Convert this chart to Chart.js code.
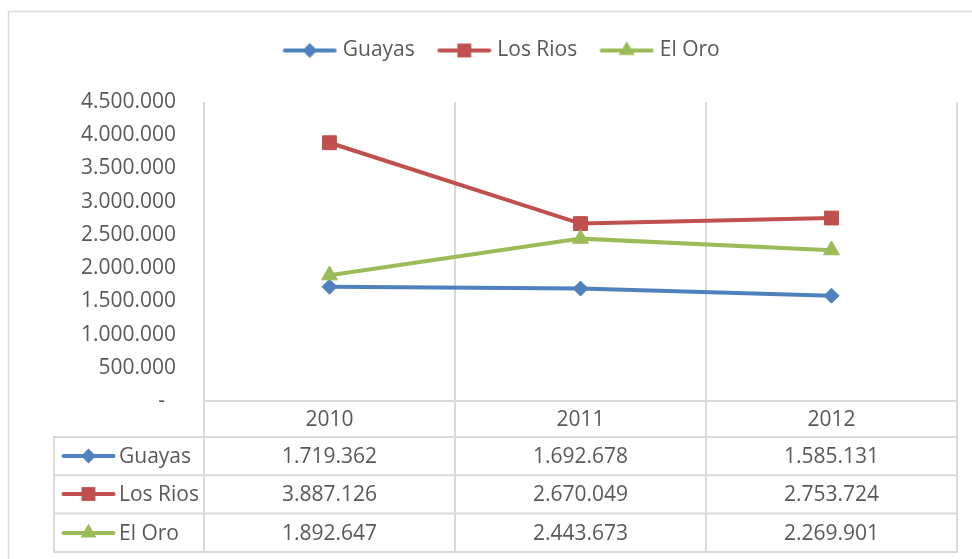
<!DOCTYPE html>
<html>
<head>
<meta charset="utf-8">
<script src="https://cdn.jsdelivr.net/npm/chart.js@4.4.1/dist/chart.umd.min.js"></script>
<style>
  html, body { margin: 0; padding: 0; background: #ffffff; }
  #wrap { width: 972px; height: 559px; position: relative; }
</style>
</head>
<body>
<div id="wrap"><canvas id="c" width="972" height="559"></canvas></div>
<script>
// ---- data ----
const categories = ['2010', '2011', '2012'];
const seriesNames = ['Guayas', 'Los Rios', 'El Oro'];
const guayas = [1719362, 1692678, 1585131];
const losRios = [3887126, 2670049, 2753724];
const elOro = [1892647, 2443673, 2269901];
const yMin = 0;
const yMax = 4500000;
const yStep = 500000;

// ---- styles ----
const COLORS = ['#4F81BD', '#C0504D', '#9BBB59'];
const MARKERS = ['rectRot', 'rect', 'triangle'];
const MARKER_R = [7.5, 9.8, 9.2];
const TEXT = '#595959';
const GRID = '#d9d9d9';
const FONT = "'Open Sans', 'Noto Sans', sans-serif";
const FS = 21;

function fmt(v) {
  if (v === 0) return '-  ';
  return String(Math.round(v)).replace(/\B(?=(\d{3})+(?!\d))/g, '.');
}

function drawMarker(ctx, style, x, y, r, color) {
  ctx.save();
  ctx.fillStyle = color;
  ctx.beginPath();
  if (style === 'rectRot') {
    ctx.moveTo(x - r, y); ctx.lineTo(x, y - r); ctx.lineTo(x + r, y); ctx.lineTo(x, y + r);
  } else if (style === 'rect') {
    const h = Math.SQRT1_2 * r;
    ctx.rect(x - h, y - h, 2 * h, 2 * h);
  } else {
    ctx.moveTo(x, y - r);
    ctx.lineTo(x + r * Math.sin(2 * Math.PI / 3), y - r * Math.cos(2 * Math.PI / 3));
    ctx.lineTo(x + r * Math.sin(4 * Math.PI / 3), y - r * Math.cos(4 * Math.PI / 3));
  }
  ctx.closePath();
  ctx.fill();
  ctx.restore();
}

function makeSample(i) {
  const cv = document.createElement('canvas');
  cv.width = 55; cv.height = 20;
  const ctx = cv.getContext('2d');
  ctx.strokeStyle = COLORS[i];
  ctx.lineWidth = 4;
  ctx.lineCap = 'round';
  ctx.beginPath();
  ctx.moveTo(2.5, 10); ctx.lineTo(52.5, 10);
  ctx.stroke();
  drawMarker(ctx, MARKERS[i], 27.5, 10, MARKER_R[i], COLORS[i]);
  return cv;
}
const samples = [0, 1, 2].map(makeSample);

const seriesData = [guayas, losRios, elOro];

const datasets = seriesData.map((d, i) => ({
  label: seriesNames[i],
  data: d,
  borderColor: COLORS[i],
  backgroundColor: COLORS[i],
  borderWidth: 4,
  pointStyle: MARKERS[i],
  pointRadius: MARKER_R[i],
  pointHoverRadius: MARKER_R[i],
  pointBackgroundColor: COLORS[i],
  pointBorderColor: COLORS[i],
  pointBorderWidth: 1,
  tension: 0,
  fill: false,
  clip: false,
  order: 3 - i
}));

const LEGEND_H = 89;

const frame = {
  id: 'frame',
  beforeLayout(chart) {
    const lg = chart.legend;
    if (lg && !lg._patchedFit) {
      const orig = lg.fit.bind(lg);
      lg.fit = function () { orig(); this.height = LEGEND_H; };
      lg._patchedFit = true;
    }
  },
  beforeDraw(chart) {
    const ctx = chart.ctx;
    ctx.save();
    ctx.fillStyle = '#ffffff';
    ctx.fillRect(0, 0, chart.width, chart.height);
    ctx.strokeStyle = GRID;
    ctx.lineWidth = 1.5;
    ctx.beginPath();
    ctx.moveTo(8.5, chart.height + 10);
    ctx.lineTo(8.5, 11.5);
    ctx.lineTo(chart.width + 10, 11.5);
    ctx.stroke();
    ctx.restore();
  },
  afterDraw(chart) {
    const ctx = chart.ctx;
    const xs = chart.scales.x;
    const area = chart.chartArea;
    const step = xs.getPixelForValue(1) - xs.getPixelForValue(0);
    const bounds = [];
    for (let i = 0; i <= categories.length; i++) bounds.push(xs.getPixelForValue(0) - step / 2 + i * step);
    const headerBottom = xs.bottom;
    const rowH = 38.3;
    const tableLeft = 54;
    const rows = seriesNames.length;
    const tableBottom = headerBottom + rowH * rows;

    ctx.save();
    ctx.strokeStyle = GRID;
    ctx.lineWidth = 2;
    ctx.beginPath();
    bounds.forEach(bx => { ctx.moveTo(bx, area.bottom); ctx.lineTo(bx, tableBottom); });
    ctx.moveTo(tableLeft, headerBottom); ctx.lineTo(tableLeft, tableBottom);
    for (let r = 0; r <= rows; r++) {
      const y = headerBottom + r * rowH;
      ctx.moveTo(tableLeft - 1, y); ctx.lineTo(bounds[bounds.length - 1] + 1, y);
    }
    ctx.stroke();

    ctx.fillStyle = TEXT;
    ctx.font = FS + 'px ' + FONT;
    ctx.textBaseline = 'middle';
    for (let r = 0; r < rows; r++) {
      const cy = headerBottom + r * rowH + rowH / 2 + 1;
      ctx.drawImage(samples[r], 61, Math.round(cy - 11));
      ctx.textAlign = 'left';
      ctx.fillText(seriesNames[r], 119, cy);
      ctx.textAlign = 'center';
      for (let c = 0; c < categories.length; c++) {
        ctx.fillText(fmt(seriesData[r][c]), xs.getPixelForValue(c), cy);
      }
    }
    ctx.restore();
  }
};

new Chart(document.getElementById('c'), {
  type: 'line',
  data: { labels: categories, datasets: datasets },
  options: {
    responsive: false,
    animation: false,
    devicePixelRatio: 1,
    layout: { padding: { top: 13, left: 50, right: 15, bottom: 122 } },
    plugins: {
      tooltip: { enabled: false },
      legend: {
        display: true,
        position: 'top',
        align: 'center',
        labels: {
          usePointStyle: true,
          pointStyleWidth: 45,
          padding: 27,
          color: TEXT,
          font: { family: FONT, size: FS },
          generateLabels: (chart) => seriesNames.map((n, i) => ({
            text: n,
            fillStyle: COLORS[i],
            strokeStyle: COLORS[i],
            lineWidth: 0,
            pointStyle: samples[i],
            datasetIndex: i,
            hidden: false,
            fontColor: TEXT
          }))
        }
      }
    },
    scales: {
      x: {
        type: 'category',
        offset: true,
        grid: { display: true, offset: true, color: GRID, lineWidth: 2, drawTicks: false },
        border: { display: true, color: GRID, width: 2 },
        ticks: { color: TEXT, font: { family: FONT, size: FS }, padding: 6, maxRotation: 0 },
        afterFit: (s) => { s.height = 36; }
      },
      y: {
        min: yMin,
        max: yMax,
        grid: { display: false, drawTicks: false },
        border: { display: false },
        ticks: {
          stepSize: yStep,
          color: TEXT,
          font: { family: FONT, size: FS },
          padding: 28,
          callback: (v) => fmt(v)
        },
        afterFit: (s) => { s.width = 154; }
      }
    }
  },
  plugins: [frame]
});
</script>
</body>
</html>
